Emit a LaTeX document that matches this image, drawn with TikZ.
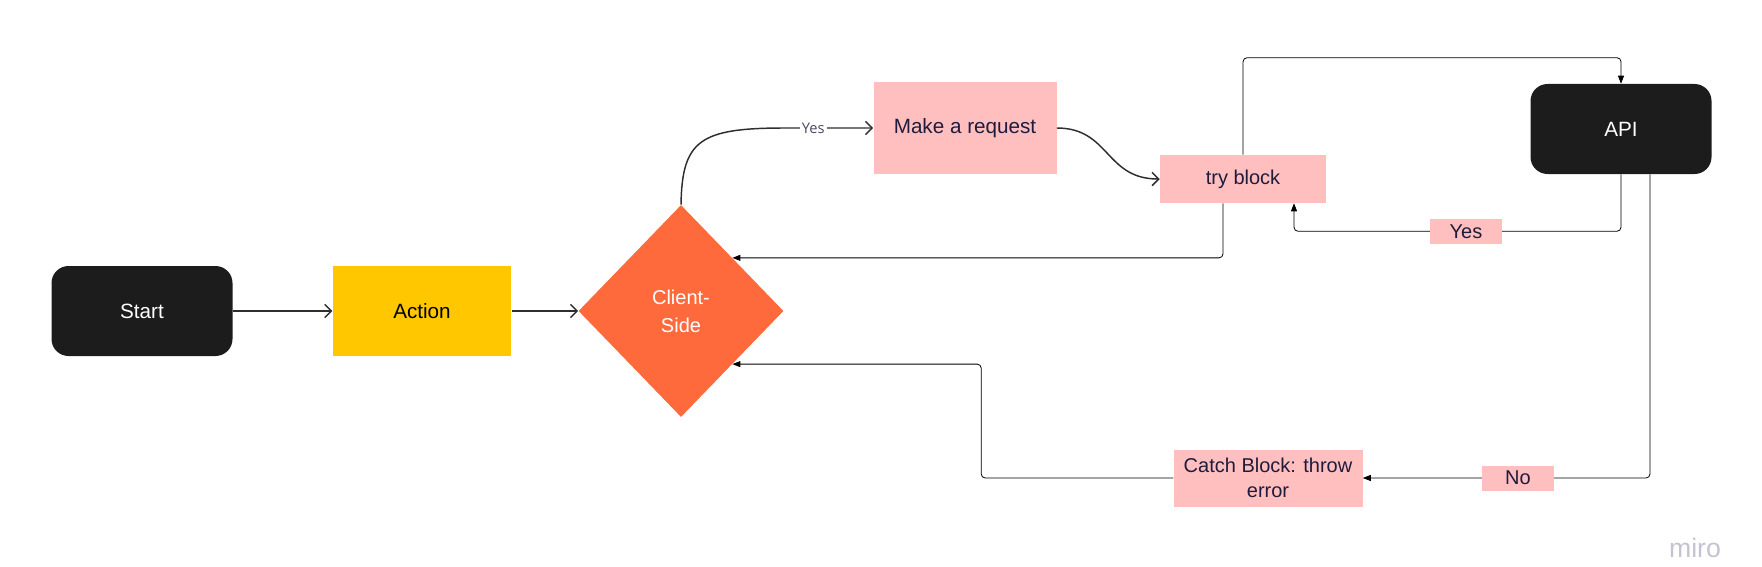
\documentclass[tikz,border=0pt]{standalone}
\usepackage{fontspec}
\setmainfont{Liberation Sans}
\newfontfamily\opensans{Open Sans}
\usetikzlibrary{shapes.geometric,arrows.meta}
\definecolor{darkbox}{HTML}{1C1C1C}
\definecolor{actionyellow}{HTML}{FFC700}
\definecolor{diamondorange}{HTML}{FF6A3D}
\definecolor{pinkbox}{HTML}{FFBFBF}
\definecolor{navytext}{HTML}{1F1B3D}
\definecolor{lineclr}{HTML}{2E2E2E}
\definecolor{mirogrey}{HTML}{C3C3D2}
\begin{document}
\begin{tikzpicture}[x=0.75pt,y=-0.75pt,
  bigfont/.style={font=\fontsize{15.5}{18}\selectfont},
  smallfont/.style={font=\fontsize{15}{18.5}\selectfont},
  darknode/.style={fill=darkbox, rounded corners=12.75pt, text=white, minimum width=135.75pt, minimum height=67.5pt, bigfont},
  pinknode/.style={fill=pinkbox, text=navytext, inner sep=0pt, align=center},
  lbl/.style={fill=pinkbox, sharp corners, text=navytext, inner sep=0pt, minimum width=54pt, minimum height=18.75pt, smallfont},
  openarr/.style={draw=lineclr, line width=1.1pt, -{Straight Barb[length=5pt,width=10pt]}},
  conn/.style={draw=black, line width=0.6pt, rounded corners=3pt, -{Triangle[length=6pt,width=4.5pt]}}
]
\useasboundingbox (0,0) rectangle (1762,567);
% nodes
\node[darknode] (start) at (142,311) {Start};
\node[fill=actionyellow, text=black, minimum width=134pt, minimum height=68pt, bigfont] (action) at (422,311) {Action};
\node[diamond, fill=diamondorange, text=white, minimum width=153.75pt, minimum height=159pt, inner sep=0pt, align=center, font=\fontsize{15}{21}\selectfont] (client) at (681,311) {Client-\\Side};
\node[pinknode, minimum width=137.25pt, minimum height=69pt, bigfont] (request) at (965,128) {Make a request};
\node[pinknode, minimum width=124.5pt, minimum height=36pt, smallfont] (try) at (1243,179) {try block};
\node[darknode] (api) at (1621,129) {API};
\node[pinknode, minimum width=141.75pt, minimum height=42.75pt, font=\fontsize{15}{18.5}\selectfont] (catch) at (1268,478) {Catch Block: throw\\error};
\node[text=mirogrey, font=\fontsize{20}{22}\selectfont] (miro) at (1695,548) {miro};
% connectors
\draw[openarr] (start) -- (action);
\draw[openarr] (action) -- (client);
\draw[openarr] (client.north) .. controls (682,140) and (700,128) .. (785,128)
  -- node[pos=0.32, fill=white, inner sep=1.5pt, text=navytext!80, font=\opensans\fontsize{11}{12}\selectfont] (yesa) {Yes} (request.west);
\draw[openarr] (request.east) .. controls (1110,128) and (1105,179) .. (try.west);
\draw[conn] (try.north) |- ([yshift=19.5pt]api.north) -- (api.north);
\draw[conn] (api.south) -- ++(0,57) -| node[pos=0.237, lbl] (yesb) {Yes} ([xshift=38.25pt]try.south);
\draw[conn] ([xshift=-15pt]try.south) |- (client.north east);
\draw[conn] ([xshift=21.75pt]api.south) |- node[pos=0.73, lbl] (no) {No} (catch.east);
\draw[conn] (catch.west) -- ++(-192,0) |- (client.south east);
\end{tikzpicture}
\end{document}
